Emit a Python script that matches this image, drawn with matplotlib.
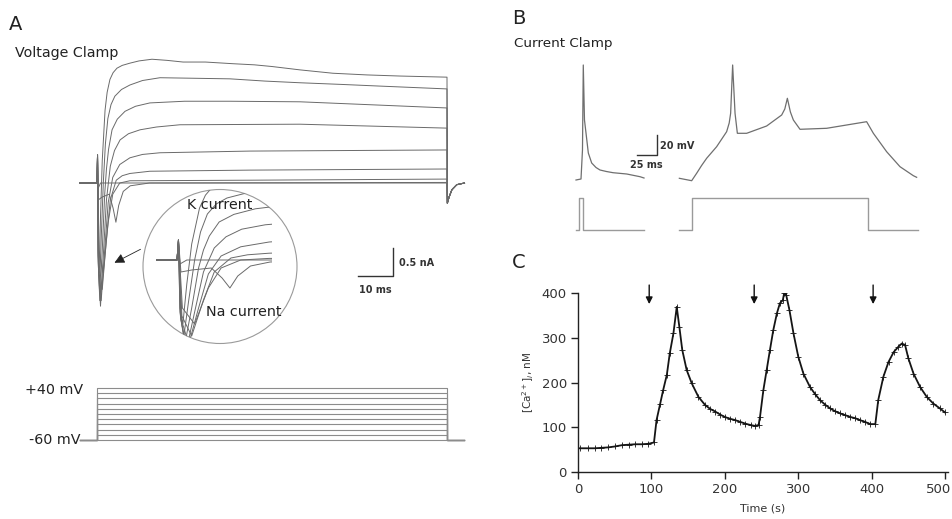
import numpy as np
import matplotlib.pyplot as plt
from matplotlib.patches import Ellipse
from matplotlib.transforms import ScaledTranslation

W, H = 953, 519

# ---- A: voltage clamp currents (t in ms, I in nA) ----
vc_trace1 = [(0, 0), (0.15, 0.5), (0.3, -1.2), (0.6, -1.6), (1.0, -0.6), (1.5, 0.4), (2.3, 1.3),
             (2.9, 1.62), (3.7, 1.85), (4.6, 1.97), (5.7, 2.05), (7.2, 2.1), (9.4, 2.14), (12, 2.18),
             (15.7, 2.21), (20, 2.19), (24.6, 2.16), (31, 2.16), (38.9, 2.13), (45, 2.11), (50, 2.08),
             (58, 2.02), (67.4, 1.96), (77.1, 1.93), (86.6, 1.91), (100, 1.89)]
vc_trace2 = [(0, 0), (0.15, 0.5), (0.3, -1.3), (0.7, -1.9), (1.2, -1.0), (1.8, 0.0), (2.4, 0.7),
             (3.1, 1.15), (4.0, 1.4), (5.1, 1.55), (7, 1.67), (9.4, 1.75), (13, 1.83), (18, 1.88),
             (28, 1.87), (38, 1.86), (48, 1.82), (58, 1.79), (70, 1.76), (81, 1.73), (100, 1.68)]
vc_trace3 = [(0, 0), (0.15, 0.5), (0.35, -1.4), (0.8, -2.1), (1.5, -1.2), (2.2, -0.2), (2.7, 0.25),
             (3.3, 0.6), (4.3, 0.95), (5.8, 1.14), (8, 1.28), (11, 1.37), (15.1, 1.43), (25, 1.46),
             (38, 1.46), (58, 1.45), (81, 1.39), (100, 1.34)]
vc_trace4 = [(0, 0), (0.15, 0.5), (0.4, -1.5), (1.0, -2.2), (1.8, -1.3), (2.7, -0.3), (3.8, 0.3),
             (5.0, 0.58), (6.6, 0.77), (9, 0.88), (12.3, 0.95), (17, 1.0), (23.7, 1.04), (58, 1.05),
             (100, 0.98)]
vc_trace5 = [(0, 0), (0.15, 0.5), (0.45, -1.5), (1.2, -2.1), (2.2, -1.2), (3.2, -0.35), (4.5, 0.1),
             (6.5, 0.33), (9.4, 0.45), (13, 0.51), (18, 0.54), (43.7, 0.57), (100, 0.59)]
vc_trace6 = [(0, 0), (0.15, 0.5), (0.5, -1.4), (1.5, -1.9), (2.7, -1.0), (3.8, -0.3), (5.5, 0.05),
             (7.2, 0.13), (9.4, 0.17), (15.1, 0.21), (43.7, 0.23), (100, 0.25)]
vc_trace7 = [(0, 0), (0.15, 0.5), (0.55, -1.2), (1.8, -1.6), (3.2, -0.7), (4.5, -0.2), (6.5, 0.0),
             (9.4, 0.04), (43.7, 0.05), (100, 0.07)]
vc_trace8 = [(0, 0), (0.15, 0.5), (0.4, -0.3), (1.5, -0.25), (3.5, -0.2), (4.6, -0.45), (5.4, -0.7),
             (6.2, -0.4), (7.5, -0.15), (9.5, -0.05), (15, 0.0), (100, 0.01)]
vc_trace9 = [(0, 0), (0.15, 0.4), (0.3, -0.1), (1, 0), (100, 0)]
vc_traces = [vc_trace1, vc_trace2, vc_trace3, vc_trace4, vc_trace5,
             vc_trace6, vc_trace7, vc_trace8, vc_trace9]
vc_pre = (-4.9, 0)
vc_tail = [(100.1, -0.36), (100.6, -0.25), (101.4, -0.12), (102.8, -0.03), (105, 0)]

# voltage protocol (mV)
hold_mv = -60
step_mv = [-60, -50, -40, -30, -20, -10, 0, 10, 20, 30, 40]
step_t = [-4.9, 0, 100, 105]

# ---- B: current clamp (t in ms, V in mV) ----
cc1_t = [0, 6.25, 8.1, 9.1, 10.6, 12.5, 15.4, 19.6, 25, 30, 38, 46.3, 63.4, 80, 85]
cc1_v = [-65, -64, -35, 50, -5, -18, -38, -48, -52.5, -55, -56.5, -57.7, -59, -61.7, -63]
cc2_t = [129.2, 144.6, 150.8, 157, 163.3, 175.8, 188.3, 191.5, 193.3, 195.8, 198.8, 201.7, 213.3,
         238.3, 257.1, 261, 264.2, 268, 271.7, 280, 313.3, 363.3, 371.7, 388.3, 405, 421.7, 425.8]
cc2_v = [-63.3, -65.7, -58.3, -50.5, -43.3, -31.7, -16.7, -8, 1.7, 50, 1.7, -18.3, -18.3,
         -11, 0, 6, 16.7, 3, -5, -14.3, -13.3, -6.7, -18.3, -36.7, -51.7, -60.7, -62.3]
stim1_t = [0, 4.2, 4.2, 8.4, 8.4, 85]
stim1_i = [0, 0, 1, 1, 0, 0]
stim2_t = [129.2, 144.6, 144.6, 365.4, 365.4, 427.9]
stim2_i = [0, 0, 1, 1, 0, 0]

# ---- C: calcium (t in s, nM) ----
ca_t = [0, 3, 13, 23, 32, 41, 50, 60, 69, 78, 87, 96, 103.5, 107, 112, 116, 121, 125, 130, 134.5,
        138, 142, 148, 155, 164, 173, 180, 187, 194, 200, 207, 214, 221, 228, 235, 241, 246, 248,
        252.5, 257, 261.5, 266, 271, 275, 279, 281, 283.5, 288, 293.5, 300, 307, 316, 323, 330,
        337, 343.5, 350, 357, 364, 371, 378, 384, 391, 398, 405, 409, 416, 423, 430, 436.5, 441,
        445.5, 450, 457, 466, 475, 484, 493, 500]
ca_v = [53, 53, 53, 53, 54, 55, 57, 60, 61, 62, 62, 63, 66, 116, 153, 183, 217, 265, 310, 369,
        325, 273, 228, 198, 168, 150, 141, 135, 128, 123, 119, 116, 112, 108, 105, 103, 105, 124,
        183, 228, 273, 317, 355, 377, 384, 401, 396, 362, 310, 258, 220, 190, 174, 160,
        150, 142, 136, 131, 127, 123, 120, 116, 112, 107, 107, 161, 213, 246, 268, 280, 287,
        284, 254, 220, 190, 168, 153, 142, 133]
stim_times = [97, 240, 402]
ca_xticks = [0, 100, 200, 300, 400, 500]
ca_yticks = [0, 100, 200, 300, 400]

fig = plt.figure(figsize=(W / 100, H / 100), dpi=100)
fig.patch.set_facecolor('white')


def px_axes(rect, xref, sx, yref, sy):
    # rect in pixels (x0, y0, x1, y1), y downward; xref/yref = (pixel, value)
    x0, y0, x1, y1 = rect
    ax = fig.add_axes([x0 / W, 1 - y1 / H, (x1 - x0) / W, (y1 - y0) / H])
    ax.set_xlim(xref[1] + (x0 - xref[0]) / sx, xref[1] + (x1 - xref[0]) / sx)
    ax.set_ylim(yref[1] - (y1 - yref[0]) / sy, yref[1] - (y0 - yref[0]) / sy)
    ax.axis('off')
    return ax


def ftext(x, y, s, **kw):
    kw.setdefault('va', 'center')
    fig.text(x / W, 1 - y / H, s, **kw)


def full_trace(tr):
    pts = [vc_pre] + tr + vc_tail
    t, i = zip(*pts)
    return t, i


# overlay for the inset circle and pointer
ov = fig.add_axes([0, 0, 1, 1])
ov.set_xlim(0, W)
ov.set_ylim(H, 0)
ov.axis('off')
circle = Ellipse((220, 266.5), 154, 154, fill=False, ec='#9a9a9a', lw=0.8)
ov.add_patch(circle)
ov.annotate('', xy=(112, 264), xytext=(143, 248),
            arrowprops=dict(arrowstyle='-|>', color='#222', lw=0.6, mutation_scale=15))

# A main
axA = px_axes((60, 40, 480, 320), (97, 0), 3.5, (183, 0), 56)
for tr in vc_traces:
    t, i = full_trace(tr)
    axA.plot(t, i, color='#6a6a6a', lw=0.7)
# scale bar 10 ms / 0.5 nA
sb_t, sb_i = 84.6, -1.66
axA.plot([sb_t - 10, sb_t, sb_t], [sb_i, sb_i, sb_i + 0.5], color='#333', lw=1.0, clip_on=False)

# A inset (zoom of onset), clipped to circle
axI = px_axes((156, 185, 272, 350), (177, 0), 9.8, (260, 0), 40)
for tr in vc_traces:
    t, i = full_trace(tr)
    ln, = axI.plot(t, i, color='#6a6a6a', lw=0.7)
    ln.set_clip_path(circle)

# A protocol
axP = px_axes((60, 375, 480, 455), (97, 0), 3.5, (440, hold_mv), 0.52)
for s in step_mv:
    axP.plot([step_t[0], step_t[1], step_t[1], step_t[2], step_t[2], step_t[3]],
             [hold_mv, hold_mv, s, s, hold_mv, hold_mv], color='#8c8c8c', lw=0.8)

# B current clamp
axB = px_axes((560, 50, 935, 195), (576, 0), 0.8, (180, -65), 1.0)
axB.plot(cc1_t, cc1_v, color='#6f6f6f', lw=0.9)
axB.plot(cc2_t, cc2_v, color='#6f6f6f', lw=0.9)
axB.plot([75.8, 100.8, 100.8], [-40, -40, -20], color='#333', lw=1.0)
axS = px_axes((560, 190, 935, 240), (576, 0), 0.8, (230, 0), 32)
axS.plot(stim1_t, stim1_i, color='#9a9a9a', lw=1.0)
axS.plot(stim2_t, stim2_i, color='#9a9a9a', lw=1.0)

# C calcium
axC = fig.add_axes([578 / W, 1 - 472 / H, (948 - 578) / W, (472 - 293) / H])
axC.plot(ca_t, ca_v, color='#151515', lw=1.3, marker='+', ms=4, mew=0.6)
axC.set_xlim(0, 504)
axC.set_ylim(0, 400)
axC.set_xticks(ca_xticks)
axC.set_yticks(ca_yticks)
for sp in ('top', 'right'):
    axC.spines[sp].set_visible(False)
for sp in ('left', 'bottom'):
    axC.spines[sp].set_color('#222')
    axC.spines[sp].set_linewidth(1.0)
axC.tick_params(direction='out', length=5, width=1.0, color='#222',
                labelsize=9.5, labelcolor='#333', pad=3)
axC.set_xlabel('Time (s)', fontsize=8, color='#333', labelpad=5)
axC.set_ylabel(r'[Ca$^{2+}$]$_i$, nM', fontsize=7.5, color='#333', labelpad=4)
# keep the last tick label inside the canvas
last = axC.get_xticklabels()[-1]
last.set_transform(last.get_transform() + ScaledTranslation(-0.07, 0, fig.dpi_scale_trans))
for ts in stim_times:
    axC.annotate('', xy=(ts, 369), xytext=(ts, 424), annotation_clip=False,
                 arrowprops=dict(arrowstyle='-|>', color='#111', lw=1.0, mutation_scale=10))

# texts
ftext(9, 25, 'A', fontsize=14, color='#222')
ftext(15, 53, 'Voltage Clamp', fontsize=10.3, color='#222')
ftext(187, 205, 'K current', fontsize=10.3, color='#222')
ftext(206, 312, 'Na current', fontsize=10.3, color='#222')
ftext(399, 263, '0.5 nA', fontsize=7, fontweight='bold', color='#333')
ftext(359, 290, '10 ms', fontsize=7, fontweight='bold', color='#333')
ftext(83, 390, '+40 mV', fontsize=10.3, color='#222', ha='right')
ftext(81, 440, '-60 mV', fontsize=10.3, color='#222', ha='right')
ftext(512, 18, 'B', fontsize=14, color='#222')
ftext(514, 44, 'Current Clamp', fontsize=9.7, color='#222')
ftext(660, 146, '20 mV', fontsize=7, fontweight='bold', color='#333')
ftext(630, 165, '25 ms', fontsize=7, fontweight='bold', color='#333')
ftext(512, 263, 'C', fontsize=14, color='#222')

fig.savefig('out.png', dpi=100, facecolor='white')
